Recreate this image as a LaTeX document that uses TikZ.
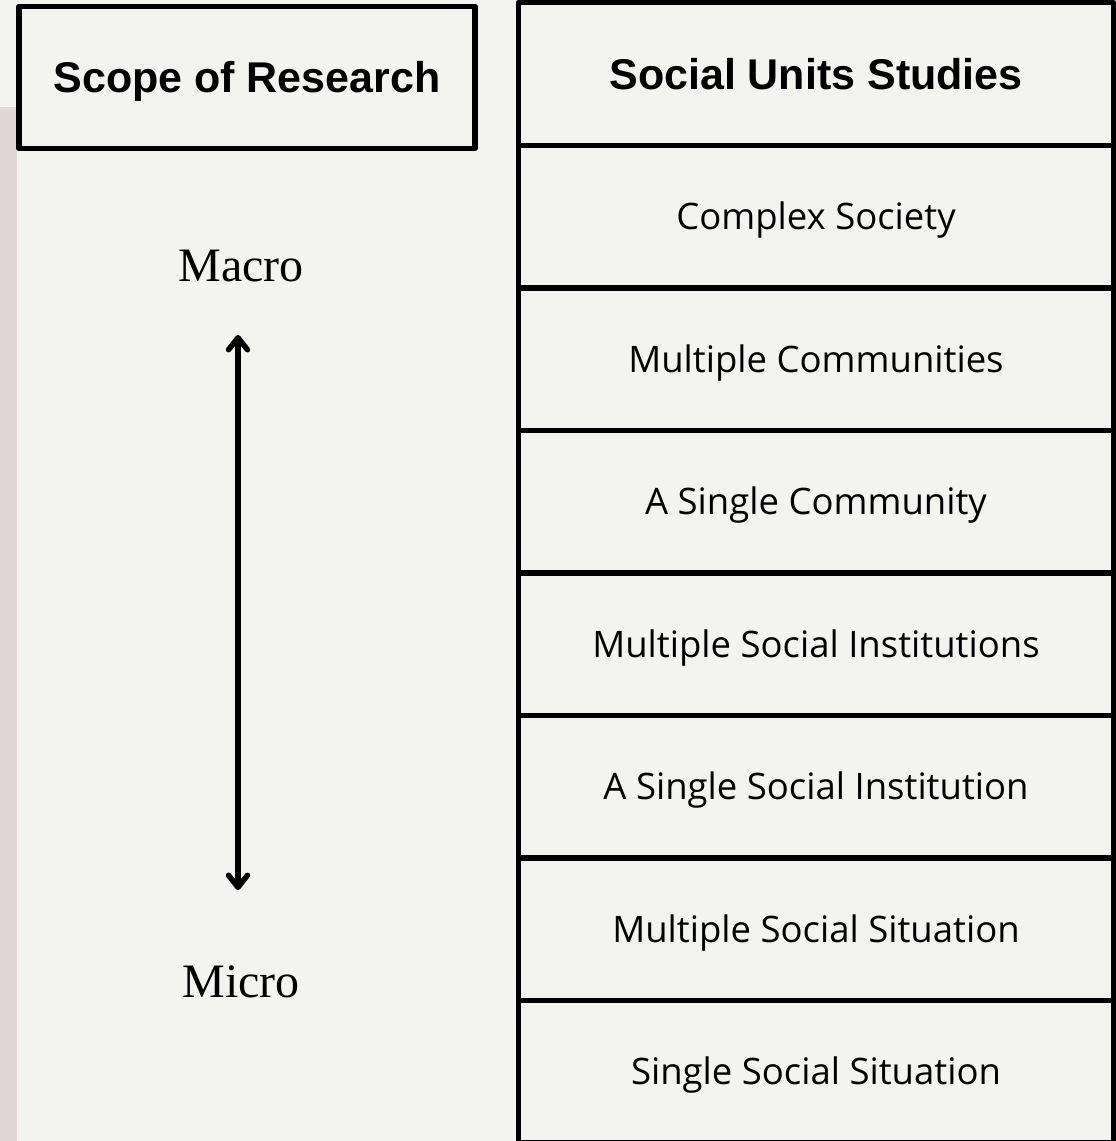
\documentclass[tikz,border=0pt]{standalone}
\usepackage{fontspec}
\newfontfamily\hdfont{Liberation Sans}
\newfontfamily\rwfont{Open Sans}
\newfontfamily\mmfont{Liberation Serif}
\usepackage{tikz}
\usetikzlibrary{positioning, arrows.meta}
\definecolor{paper}{HTML}{F3F4EF}
\definecolor{strip}{HTML}{E0D8D8}
\tikzset{
	headbox/.style={rectangle,draw,line width=5.5pt,outer sep=0pt,inner sep=0pt,text height=30.8pt,text depth=0pt,font=\hdfont\bfseries\fontsize{43}{51}\selectfont},
	unitbox/.style={rectangle,draw,line width=5.5pt,outer sep=0pt,inner sep=0pt,minimum width=595pt,minimum height=142.5pt,text height=26pt,text depth=0pt,font=\rwfont\fontsize{36.5}{44}\selectfont},
	scalelabel/.style={anchor=base,inner sep=0pt,font=\mmfont\fontsize{48}{58}\selectfont},
	updown/.style={{Straight Barb[length=12pt,width=19pt,round]}-{Straight Barb[length=12pt,width=19pt,round]},line width=5.5pt,line cap=round}
}

\begin{document}
\begin{tikzpicture}[x=1pt,y=-1pt,line join=round]
	\useasboundingbox[fill=paper] (0,0) rectangle (1116,1141);
	\fill[strip] (0,107) rectangle (16.7,1141);
	
	\node[headbox,minimum width=456pt,minimum height=142pt] (s0) at (247,77.5) {Scope of Research};
	\node[headbox,minimum width=595pt,minimum height=143pt] (u0) at (816,74) {Social Units Studies};
	\node[unitbox,below=0pt of u0] (u1) {Complex Society};
	\node[unitbox,below=0pt of u1] (u2) {Multiple Communities};
	\node[unitbox,below=0pt of u2] (u3) {A Single Community};
	\node[unitbox,below=0pt of u3] (u4) {Multiple Social Institutions};
	\node[unitbox,below=0pt of u4] (u5) {A Single Social Institution};
	\node[unitbox,below=0pt of u5] (u6) {Multiple Social Situation};
	\node[unitbox,below=0pt of u6] (u7) {Single Social Situation};
	
	\node[scalelabel] (macro) at (241,281) {Macro};
	\node[scalelabel] (micro) at (241,997) {Micro};
	\coordinate (hi) at (238,335);
	\coordinate (lo) at (238,890);
	
	\draw[updown] (lo) -- (hi);
	
\end{tikzpicture}
\end{document}
